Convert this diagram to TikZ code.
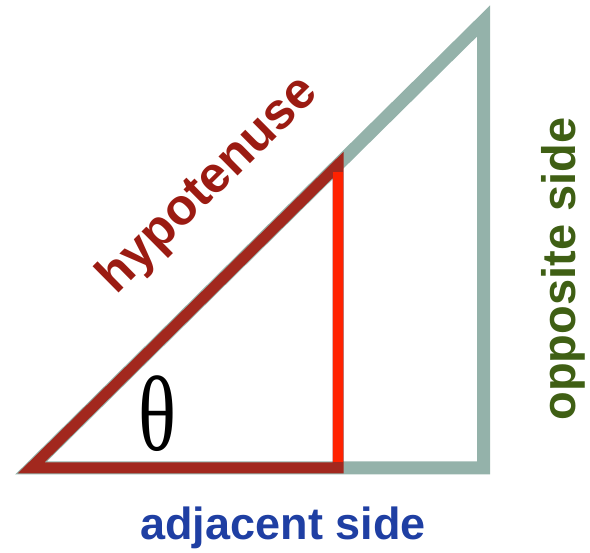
\documentclass[tikz,border=0pt]{standalone}
\usepackage{fontspec}
\setmainfont{Liberation Sans}
\newfontfamily\thetafont{Liberation Serif}
\definecolor{sage}{HTML}{94B2AA}
\definecolor{brick}{HTML}{A2281E}
\definecolor{brightred}{HTML}{FF2200}
\definecolor{hyptext}{HTML}{9B1B12}
\definecolor{opptext}{HTML}{3F5F14}
\definecolor{adjtext}{HTML}{1F3FA3}
\tikzset{
  bigtri/.style={draw=sage, line width=13pt, miter limit=20, line join=miter},
  smalltri/.style={draw=brick, line width=11pt, miter limit=20, line join=miter},
  oppline/.style={draw=brightred, line width=10.5pt, line cap=butt},
  lbl/.style={font=\bfseries\fontsize{45}{45}\selectfont, inner sep=0pt},
}
\begin{document}
\begin{tikzpicture}[x=1pt, y=-1pt]
\useasboundingbox (0,0) rectangle (590,553);
\coordinate (A) at (31,468);
\coordinate (B) at (483.5,468);
\coordinate (C) at (483.5,21);
\coordinate (D) at (338,468);
\coordinate (E) at (338,165);
\coordinate (Dt) at (338,462);
\coordinate (Et) at (338,172);
\draw[bigtri] (A) -- (B) -- (C) -- cycle;
\draw[smalltri] (A) -- (D) -- (E) -- cycle;
\draw[oppline] (Dt) -- (Et);
\node[lbl, text=hyptext, font=\bfseries\fontsize{51}{51}\selectfont, rotate=44.7, anchor=base] (hyp) at (218,195) {hypotenuse};
\node[lbl, text=opptext, font=\bfseries\fontsize{47}{47}\selectfont, rotate=90, anchor=base] (opp) at (575,269) {opposite side};
\node[lbl, text=adjtext, anchor=base] (adj) at (283,540) {adjacent side};
\node[inner sep=0pt, font=\thetafont\fontsize{107}{107}\selectfont, xscale=0.74] (theta) at (157,414) {θ};
\end{tikzpicture}
\end{document}
